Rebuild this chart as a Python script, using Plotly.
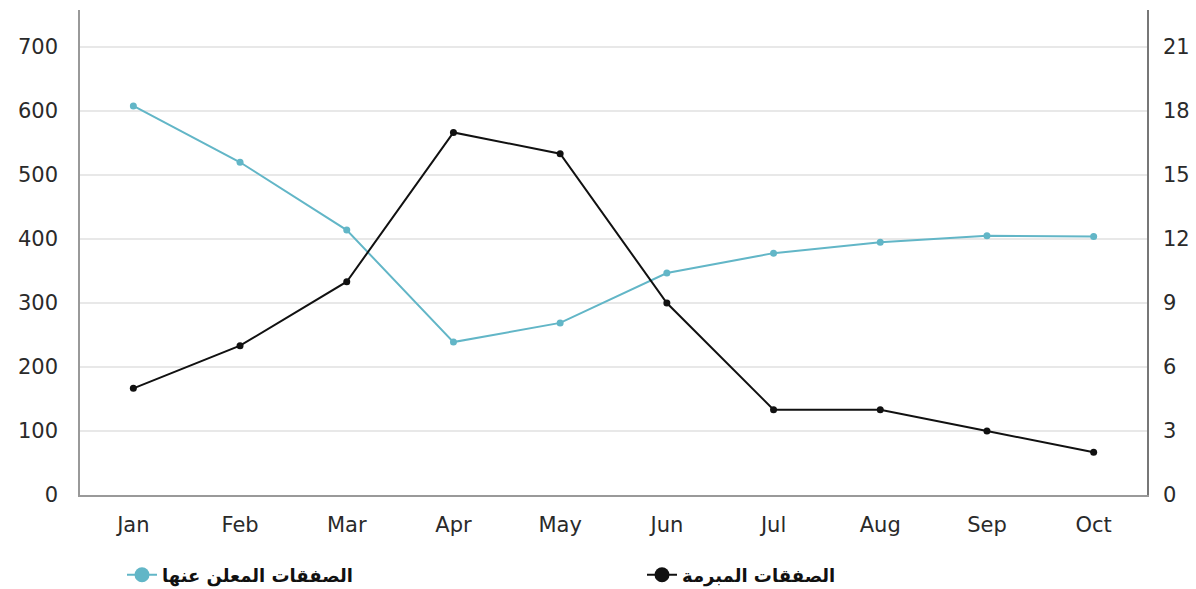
import plotly.graph_objects as go

months = ["Jan", "Feb", "Mar", "Apr", "May", "Jun", "Jul", "Aug", "Sep", "Oct"]
announced = [608, 520, 414, 239, 269, 347, 378, 395, 405, 404]
concluded = [5, 7, 10, 17, 16, 9, 4, 4, 3, 2]
name_announced = "الصفقات المعلن عنها"
name_concluded = "الصفقات المبرمة"
left_ticks = [0, 100, 200, 300, 400, 500, 600, 700]
right_ticks = [0, 3, 6, 9, 12, 15, 18, 21]

BLUE = "#62b6c7"
BLACK = "#111111"
tickfont = dict(family="DejaVu Sans", size=21, color="#2a2a2a")
legfont = dict(family="DejaVu Sans", size=18, color="#111", weight="bold")

fig = go.Figure()
fig.add_trace(go.Scatter(x=months, y=announced, mode="lines+markers", name=name_announced,
                         line=dict(color=BLUE, width=2), marker=dict(color=BLUE, size=7),
                         showlegend=False, yaxis="y"))
fig.add_trace(go.Scatter(x=months, y=concluded, mode="lines+markers", name=name_concluded,
                         line=dict(color=BLACK, width=2), marker=dict(color=BLACK, size=7),
                         showlegend=False, yaxis="y2"))
# legend entries
fig.add_trace(go.Scatter(x=[None], y=[None], mode="lines+markers", name=name_announced,
                         line=dict(color=BLUE, width=2), marker=dict(color=BLUE, size=15),
                         legend="legend"))
fig.add_trace(go.Scatter(x=[None], y=[None], mode="lines+markers", name=name_concluded,
                         line=dict(color=BLACK, width=2), marker=dict(color=BLACK, size=15),
                         yaxis="y2", legend="legend2"))

ymax = 758
leg_common = dict(orientation="h", xref="container", yref="container",
                  y=1 - 575 / 589, xanchor="left", yanchor="middle", font=legfont,
                  bgcolor="rgba(0,0,0,0)")
fig.update_layout(
    width=1196, height=589,
    margin=dict(l=80, r=49, t=10, b=94),
    plot_bgcolor="white", paper_bgcolor="white",
    xaxis=dict(type="category", categoryorder="array", categoryarray=months,
               range=[-0.5, 9.5], showgrid=False, showline=True, linecolor="#999",
               linewidth=1.5, tickfont=tickfont, ticks="", ticklabelstandoff=10,
               automargin=False),
    yaxis=dict(range=[0, ymax], tickvals=left_ticks, showgrid=True, gridcolor="#e8e8e8",
               gridwidth=1.5, showline=True, linecolor="#999", linewidth=1.5,
               tickfont=tickfont, ticks="", zeroline=False, ticklabelstandoff=16,
               automargin=False),
    yaxis2=dict(range=[0, ymax / 700 * 21], tickvals=right_ticks, overlaying="y", side="right",
                showgrid=False, showline=True, linecolor="#777", linewidth=1.5,
                tickfont=tickfont, ticks="", zeroline=False, ticklabelstandoff=10,
                automargin=False),
    legend=dict(x=122 / 1196, **leg_common),
    legend2=dict(x=642 / 1196, **leg_common),
    showlegend=True,
)

fig.write_html("out.html")
